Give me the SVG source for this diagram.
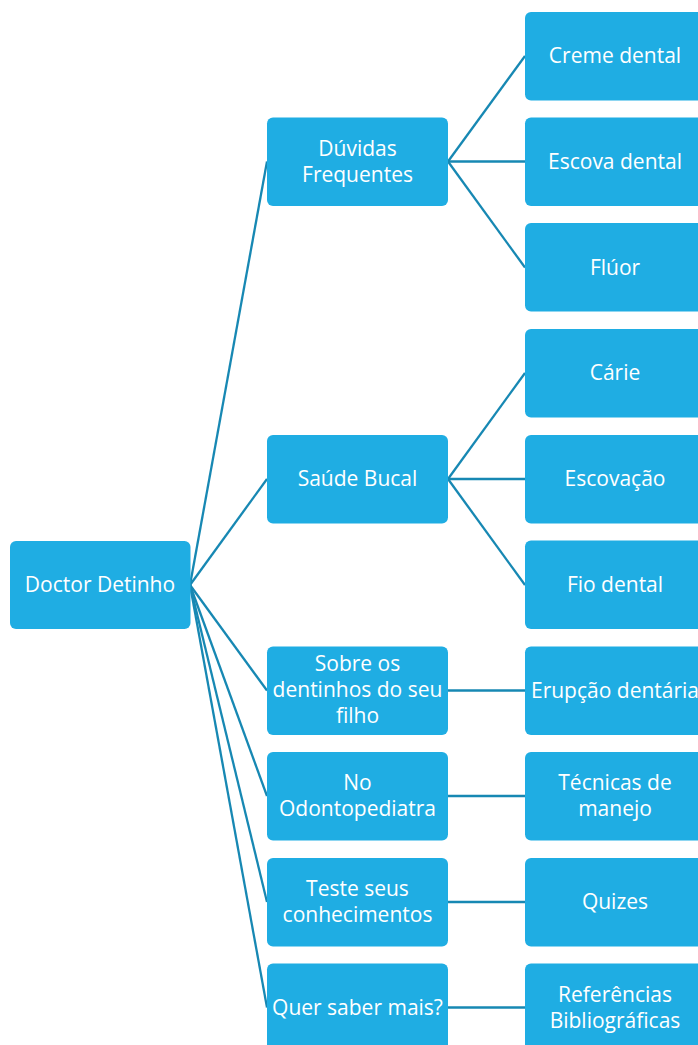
<svg xmlns="http://www.w3.org/2000/svg" width="698" height="1045" viewBox="0 0 698 1045">
<style>
.n rect{fill:#1FADE3;}
.n text{fill:#ffffff;font-family:"Open Sans","Noto Sans",sans-serif;font-size:21px;text-anchor:middle;}
#connectors line{stroke:#1788B3;stroke-width:2.3;fill:none;}
</style>
<rect x="0" y="0" width="698" height="1045" fill="#ffffff"/>
<g id="connectors">
<line x1="190" y1="585" x2="267" y2="161.5"/>
<line x1="190" y1="585" x2="267" y2="479"/>
<line x1="190" y1="585" x2="267" y2="690.5"/>
<line x1="190" y1="585" x2="267" y2="796"/>
<line x1="190" y1="585" x2="267" y2="902"/>
<line x1="190" y1="585" x2="267" y2="1007.5"/>
<line x1="448" y1="161.5" x2="525" y2="56"/>
<line x1="448" y1="161.5" x2="525" y2="161.5"/>
<line x1="448" y1="161.5" x2="525" y2="267.5"/>
<line x1="448" y1="479" x2="525" y2="373"/>
<line x1="448" y1="479" x2="525" y2="479"/>
<line x1="448" y1="479" x2="525" y2="585"/>
<line x1="448" y1="690.5" x2="525" y2="690.5"/>
<line x1="448" y1="796" x2="525" y2="796"/>
<line x1="448" y1="902" x2="525" y2="902"/>
<line x1="448" y1="1007.5" x2="525" y2="1007.5"/>
</g>
<g id="root" class="n"><rect x="10" y="541" width="180.5" height="88" rx="6"/><text x="100" y="592">Doctor Detinho</text></g>
<g id="duvidas" class="n"><rect x="267" y="117.5" width="181" height="88.5" rx="6"/><text x="357.5" y="156">Dúvidas</text><text x="357.5" y="182">Frequentes</text></g>
<g id="saude" class="n"><rect x="267" y="435" width="181" height="88.5" rx="6"/><text x="357.5" y="486">Saúde Bucal</text></g>
<g id="sobre" class="n"><rect x="267" y="646.5" width="181" height="88.5" rx="6"/><text x="357.5" y="671">Sobre os</text><text x="357.5" y="697">dentinhos do seu</text><text x="357.5" y="723">filho</text></g>
<g id="odonto" class="n"><rect x="267" y="752" width="181" height="88.5" rx="6"/><text x="357.5" y="790">No</text><text x="357.5" y="816">Odontopediatra</text></g>
<g id="teste" class="n"><rect x="267" y="858" width="181" height="88.5" rx="6"/><text x="357.5" y="896">Teste seus</text><text x="357.5" y="922">conhecimentos</text></g>
<g id="quer" class="n"><rect x="267" y="963.5" width="181" height="88.5" rx="6"/><text x="357.5" y="1014.5">Quer saber mais?</text></g>
<g id="creme" class="n"><rect x="525" y="12" width="181" height="88.5" rx="6"/><text x="615" y="63">Creme dental</text></g>
<g id="escova" class="n"><rect x="525" y="117.5" width="181" height="88.5" rx="6"/><text x="615" y="168.5">Escova dental</text></g>
<g id="fluor" class="n"><rect x="525" y="223" width="181" height="88.5" rx="6"/><text x="615" y="274.5">Flúor</text></g>
<g id="carie" class="n"><rect x="525" y="329" width="181" height="88.5" rx="6"/><text x="615" y="380">Cárie</text></g>
<g id="escovacao" class="n"><rect x="525" y="435" width="181" height="88.5" rx="6"/><text x="615" y="486">Escovação</text></g>
<g id="fio" class="n"><rect x="525" y="540.5" width="181" height="88.5" rx="6"/><text x="615" y="592">Fio dental</text></g>
<g id="erupcao" class="n"><rect x="525" y="646.5" width="181" height="88.5" rx="6"/><text x="615" y="697.5">Erupção dentária</text></g>
<g id="tecnicas" class="n"><rect x="525" y="752" width="181" height="88.5" rx="6"/><text x="615" y="790">Técnicas de</text><text x="615" y="816">manejo</text></g>
<g id="quizes" class="n"><rect x="525" y="858" width="181" height="88.5" rx="6"/><text x="615" y="909">Quizes</text></g>
<g id="referencias" class="n"><rect x="525" y="963.5" width="181" height="88.5" rx="6"/><text x="615" y="1002">Referências</text><text x="615" y="1028">Bibliográficas</text></g>
</svg>
